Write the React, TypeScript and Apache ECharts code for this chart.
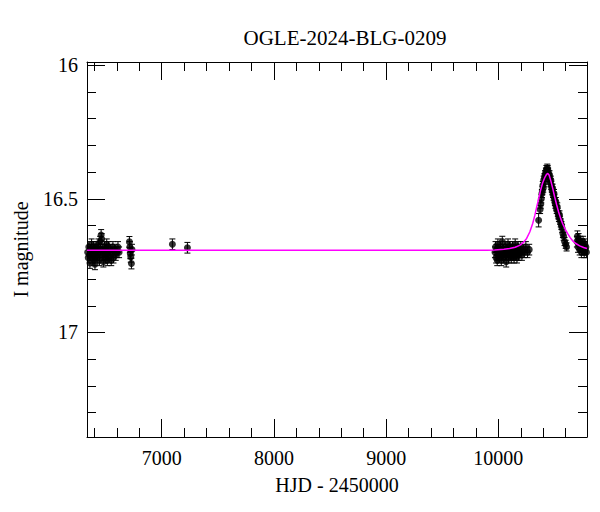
import React, { useEffect, useRef } from 'react';
import * as echarts from 'echarts';

const TITLE = 'OGLE-2024-BLG-0209';
const X_NAME = 'HJD - 2450000';
const Y_NAME = 'I magnitude';

const X_MIN = 6334;
const X_MAX = 10790;
const Y_MIN = 15.988;
const Y_MAX = 17.391;

const X_MAJOR = [7000, 8000, 9000, 10000];
const X_MINOR = [6400, 6600, 6800, 7200, 7400, 7600, 7800, 8200, 8400, 8600, 8800, 9200, 9400, 9600, 9800, 10200, 10400, 10600];
const Y_MAJOR = [16, 16.5, 17];
const Y_MINOR = [16.1, 16.2, 16.3, 16.4, 16.6, 16.7, 16.8, 16.9, 17.1, 17.2, 17.3];

// [HJD-2450000, I mag, error]
const season1 = [
  [6340, 16.70, 0.02], [6345, 16.72, 0.02], [6350, 16.68, 0.02], [6355, 16.71, 0.02], [6360, 16.74, 0.02],
  [6366, 16.69, 0.02], [6370, 16.70, 0.02], [6375, 16.67, 0.02], [6380, 16.72, 0.02], [6386, 16.71, 0.02],
  [6390, 16.68, 0.02], [6395, 16.73, 0.02], [6400, 16.69, 0.02], [6405, 16.745, 0.02], [6410, 16.70, 0.02],
  [6415, 16.68, 0.02], [6420, 16.71, 0.02], [6425, 16.69, 0.02], [6430, 16.72, 0.02], [6436, 16.67, 0.02],
  [6440, 16.70, 0.02], [6445, 16.73, 0.02], [6450, 16.66, 0.02], [6455, 16.69, 0.02], [6460, 16.635, 0.02],
  [6465, 16.65, 0.02], [6470, 16.71, 0.02], [6475, 16.69, 0.02], [6480, 16.735, 0.02], [6485, 16.70, 0.02],
  [6490, 16.68, 0.02], [6496, 16.72, 0.02], [6500, 16.69, 0.02], [6505, 16.71, 0.02], [6510, 16.67, 0.02],
  [6515, 16.73, 0.02], [6520, 16.70, 0.02], [6526, 16.68, 0.02], [6530, 16.72, 0.02], [6540, 16.69, 0.02],
  [6545, 16.71, 0.02], [6550, 16.73, 0.02], [6560, 16.70, 0.02], [6565, 16.68, 0.02], [6570, 16.72, 0.02],
  [6580, 16.69, 0.02], [6590, 16.71, 0.02], [6600, 16.70, 0.02], [6610, 16.68, 0.02], [6620, 16.70, 0.02],
];

const season2 = [
  [6712, 16.661, 0.02], [6716, 16.68, 0.02], [6720, 16.704, 0.02], [6724, 16.717, 0.02], [6730, 16.742, 0.02], [6735, 16.69, 0.02],
];

const isolated = [
  [7095, 16.67, 0.02], [7229, 16.683, 0.02],
];

const season5 = [
  [9970, 16.70, 0.02], [9975, 16.68, 0.02], [9980, 16.72, 0.02], [9985, 16.69, 0.02], [9990, 16.73, 0.02],
  [9996, 16.67, 0.02], [10000, 16.71, 0.02], [10005, 16.69, 0.02], [10010, 16.72, 0.02], [10015, 16.70, 0.02],
  [10020, 16.68, 0.02], [10026, 16.73, 0.02], [10030, 16.70, 0.02], [10035, 16.66, 0.02], [10040, 16.71, 0.02],
  [10046, 16.69, 0.02], [10050, 16.72, 0.02], [10055, 16.70, 0.02], [10060, 16.68, 0.02], [10066, 16.71, 0.02],
  [10070, 16.735, 0.02], [10075, 16.69, 0.02], [10080, 16.70, 0.02], [10086, 16.67, 0.02], [10090, 16.72, 0.02],
  [10095, 16.70, 0.02], [10100, 16.68, 0.02], [10106, 16.71, 0.02], [10110, 16.69, 0.02], [10115, 16.72, 0.02],
  [10120, 16.70, 0.02], [10126, 16.68, 0.02], [10130, 16.71, 0.02], [10136, 16.69, 0.02], [10140, 16.72, 0.02],
  [10146, 16.70, 0.02], [10150, 16.67, 0.02], [10156, 16.71, 0.02], [10160, 16.69, 0.02], [10166, 16.72, 0.02],
  [10170, 16.70, 0.02], [10176, 16.68, 0.02], [10180, 16.71, 0.02], [10186, 16.69, 0.02], [10190, 16.70, 0.02],
  [10200, 16.68, 0.02], [10210, 16.71, 0.02], [10220, 16.69, 0.02], [10230, 16.70, 0.02], [10245, 16.68, 0.02],
  [10260, 16.70, 0.02], [10275, 16.69, 0.02],
];

const peak = [
  [10359, 16.58, 0.025], [10372, 16.54, 0.015], [10378, 16.52, 0.015], [10383, 16.50, 0.015], [10388, 16.48, 0.015],
  [10392, 16.47, 0.015], [10396, 16.45, 0.015], [10400, 16.46, 0.015], [10404, 16.43, 0.015], [10408, 16.44, 0.015],
  [10412, 16.42, 0.015], [10416, 16.41, 0.015], [10420, 16.41, 0.015], [10424, 16.40, 0.015], [10428, 16.39, 0.015],
  [10432, 16.40, 0.015], [10436, 16.385, 0.015], [10440, 16.39, 0.015], [10444, 16.40, 0.015], [10448, 16.41, 0.015],
  [10452, 16.42, 0.015], [10456, 16.41, 0.015], [10460, 16.43, 0.015], [10464, 16.44, 0.015], [10468, 16.43, 0.015],
  [10472, 16.45, 0.015], [10476, 16.46, 0.015], [10480, 16.47, 0.015], [10484, 16.46, 0.015], [10488, 16.48, 0.015],
  [10492, 16.49, 0.015], [10496, 16.48, 0.015], [10500, 16.50, 0.015], [10504, 16.51, 0.015], [10508, 16.52, 0.015],
  [10512, 16.51, 0.015], [10516, 16.53, 0.015], [10520, 16.54, 0.015], [10525, 16.53, 0.015], [10530, 16.55, 0.015],
  [10535, 16.56, 0.015], [10540, 16.57, 0.015], [10545, 16.56, 0.015], [10550, 16.58, 0.015], [10556, 16.59, 0.015],
  [10562, 16.60, 0.015], [10568, 16.61, 0.015], [10575, 16.63, 0.015], [10582, 16.64, 0.015], [10590, 16.66, 0.015],
  [10600, 16.67, 0.015], [10608, 16.68, 0.015],
];

const tail = [
  [10700, 16.66, 0.02], [10705, 16.64, 0.02], [10710, 16.68, 0.02], [10715, 16.65, 0.02], [10720, 16.67, 0.02],
  [10725, 16.69, 0.02], [10730, 16.66, 0.02], [10735, 16.68, 0.02], [10740, 16.70, 0.02], [10745, 16.67, 0.02],
  [10750, 16.69, 0.02], [10755, 16.66, 0.02], [10760, 16.68, 0.02], [10765, 16.70, 0.02], [10770, 16.67, 0.02],
  [10775, 16.69, 0.02], [10780, 16.68, 0.02], [10785, 16.70, 0.02],
];

const modelHjd = [6334, 9900, 9967, 10050, 10100, 10150, 10190, 10220, 10252, 10280, 10306, 10325, 10341, 10360, 10377, 10395, 10413, 10428, 10440, 10452, 10466, 10484, 10502, 10520, 10537, 10555, 10573, 10595, 10618, 10640, 10662, 10690, 10725, 10760, 10790];
const modelMag = [16.692, 16.692, 16.691, 16.689, 16.686, 16.681, 16.674, 16.664, 16.648, 16.624, 16.592, 16.562, 16.532, 16.498, 16.467, 16.44, 16.421, 16.409, 16.405, 16.411, 16.43, 16.46, 16.493, 16.523, 16.549, 16.573, 16.593, 16.613, 16.63, 16.645, 16.657, 16.667, 16.676, 16.682, 16.686];

const FONT = 'Liberation Serif';

export default function App() {
  const ref = useRef<HTMLDivElement>(null);
  useEffect(() => {
    if (!ref.current) return;
    const chart = echarts.init(ref.current, null, { renderer: 'svg' });
    const allData = [...season1, ...season2, ...isolated, ...season5, ...peak, ...tail];
    const model = modelHjd.map((h, i) => [h, modelMag[i]]);

    const baseX = (position: string) => ({
      type: 'value',
      position,
      min: X_MIN,
      max: X_MAX,
      splitLine: { show: false },
    });
    const baseY = (position: string) => ({
      type: 'value',
      position,
      min: Y_MIN,
      max: Y_MAX,
      inverse: true,
      splitLine: { show: false },
    });
    const lineStyle = { color: '#000', width: 1 };
    const plain = (v: number) => String(v);

    chart.setOption({
      animation: false,
      backgroundColor: '#fff',
      title: {
        text: TITLE,
        left: 340,
        top: 22,
        textAlign: 'center',
        textStyle: { fontFamily: FONT, fontSize: 21, fontWeight: 'normal', color: '#000' },
      },
      grid: { left: 87, top: 62, width: 500, height: 375, containLabel: false },
      xAxis: [
        {
          ...baseX('bottom'),
          axisLine: { show: true, onZero: false, lineStyle },
          axisTick: { show: true, inside: true, length: 18, customValues: X_MAJOR, lineStyle },
          axisLabel: { show: true, customValues: X_MAJOR, formatter: plain, margin: 11, fontFamily: FONT, fontSize: 20, color: '#000' },
          name: X_NAME,
          nameLocation: 'middle',
          nameGap: 38,
          nameTextStyle: { fontFamily: FONT, fontSize: 20, color: '#000' },
        },
        {
          ...baseX('bottom'),
          axisLine: { show: false, onZero: false },
          axisTick: { show: true, inside: true, length: 9, customValues: X_MINOR, lineStyle },
          axisLabel: { show: false },
        },
        {
          ...baseX('top'),
          axisLine: { show: true, onZero: false, lineStyle },
          axisTick: { show: true, inside: true, length: 18, customValues: X_MAJOR, lineStyle },
          axisLabel: { show: false },
        },
        {
          ...baseX('top'),
          axisLine: { show: false, onZero: false },
          axisTick: { show: true, inside: true, length: 9, customValues: X_MINOR, lineStyle },
          axisLabel: { show: false },
        },
      ],
      yAxis: [
        {
          ...baseY('left'),
          axisLine: { show: true, onZero: false, lineStyle },
          axisTick: { show: true, inside: true, length: 18, customValues: Y_MAJOR, lineStyle },
          axisLabel: { show: true, customValues: Y_MAJOR, formatter: plain, margin: 9, fontFamily: FONT, fontSize: 20, color: '#000' },
          name: Y_NAME,
          nameLocation: 'middle',
          nameGap: 56,
          nameTextStyle: { fontFamily: FONT, fontSize: 20, color: '#000' },
        },
        {
          ...baseY('left'),
          axisLine: { show: false, onZero: false },
          axisTick: { show: true, inside: true, length: 9, customValues: Y_MINOR, lineStyle },
          axisLabel: { show: false },
        },
        {
          ...baseY('right'),
          axisLine: { show: true, onZero: false, lineStyle },
          axisTick: { show: true, inside: true, length: 18, customValues: Y_MAJOR, lineStyle },
          axisLabel: { show: false },
        },
        {
          ...baseY('right'),
          axisLine: { show: false, onZero: false },
          axisTick: { show: true, inside: true, length: 9, customValues: Y_MINOR, lineStyle },
          axisLabel: { show: false },
        },
      ],
      series: [
        {
          type: 'custom',
          xAxisIndex: 0,
          yAxisIndex: 0,
          clip: true,
          data: allData,
          z: 2,
          renderItem: (params: any, api: any) => {
            const x = api.value(0);
            const y = api.value(1);
            const e = api.value(2);
            const top = api.coord([x, y - e]);
            const bot = api.coord([x, y + e]);
            const cap = 3;
            const st = { stroke: '#000', lineWidth: 1 };
            return {
              type: 'group',
              children: [
                { type: 'line', shape: { x1: top[0], y1: top[1], x2: bot[0], y2: bot[1] }, style: st },
                { type: 'line', shape: { x1: top[0] - cap, y1: top[1], x2: top[0] + cap, y2: top[1] }, style: st },
                { type: 'line', shape: { x1: bot[0] - cap, y1: bot[1], x2: bot[0] + cap, y2: bot[1] }, style: st },
              ],
            };
          },
        },
        {
          type: 'scatter',
          xAxisIndex: 0,
          yAxisIndex: 0,
          clip: true,
          data: allData.map((d) => [d[0], d[1]]),
          symbol: 'circle',
          symbolSize: 7,
          itemStyle: { color: '#000' },
          z: 3,
        },
        {
          type: 'line',
          xAxisIndex: 0,
          yAxisIndex: 0,
          data: model,
          showSymbol: false,
          smooth: false,
          lineStyle: { color: '#ff00ff', width: 1.5 },
          z: 4,
        },
      ],
    });
    return () => chart.dispose();
  }, []);
  return <div ref={ref} style={{ position: 'fixed', left: 0, top: 0, width: 600, height: 512 }} />;
}
